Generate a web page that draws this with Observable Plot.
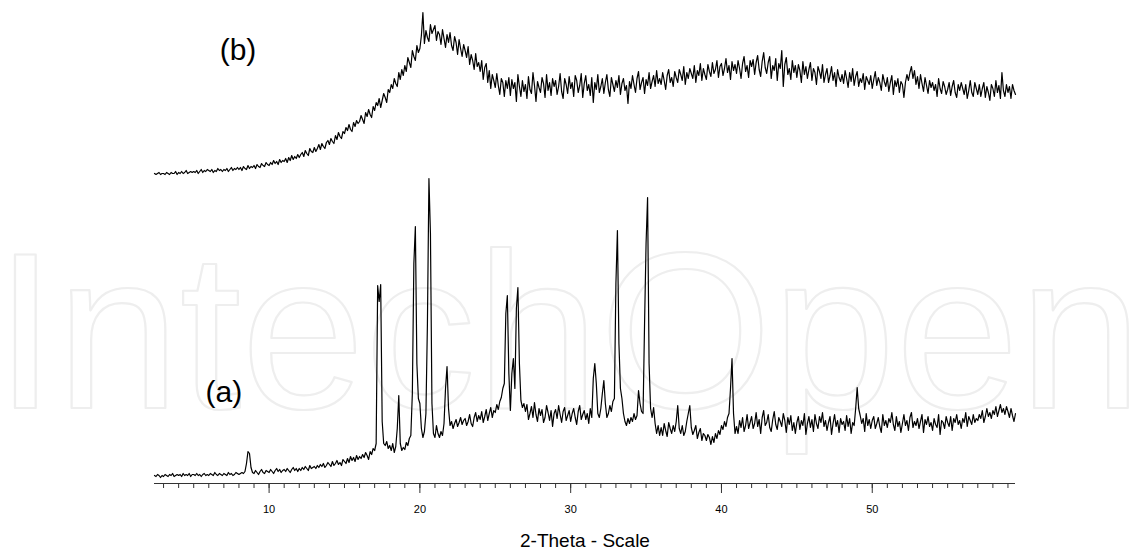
<!DOCTYPE html>
<html><head><meta charset="utf-8">
<script src="https://cdn.jsdelivr.net/npm/d3@7"></script>
<script src="https://cdn.jsdelivr.net/npm/@observablehq/plot@0.6"></script>
<style>body{margin:0;background:#fff;}</style>
</head><body><div id="chart"></div>
<script>
// 2-theta scan: regular sampling
const thetaStart = 2.4;
const thetaStep = 0.1;

// (a) intensities (arbitrary units)
const intensityA = [
  8,7,9,8,6,8,
  7,9,8,7,9,8,10,7,8,9,
  8,9,7,10,8,9,8,10,7,9,
  9,8,10,8,9,7,9,10,8,9,
  8,10,9,8,11,9,8,10,9,8,
  10,9,8,11,9,10,8,9,11,10,
  9,10,11,10,12,20,32,30,16,11,
  10,13,11,9,12,14,11,10,13,12,
  11,14,12,10,13,15,12,14,11,13,
  14,12,15,13,11,14,16,13,15,12,
  15,13,16,14,17,15,13,18,15,16,
  17,15,18,16,19,17,20,16,18,21,
  19,17,22,18,20,23,19,21,18,24,
  22,20,25,21,27,23,26,22,28,24,
  27,25,29,26,31,28,24,32,29,35,
  33,40,198,182,199,62,40,38,42,35,
  38,33,40,31,37,55,88,40,33,36,
  34,41,38,45,48,90,220,257,120,85,
  80,55,46,52,70,160,305,250,80,50,
  46,58,50,46,52,48,60,95,117,75,
  58,62,55,60,64,57,61,66,59,63,
  65,58,62,69,60,57,66,71,62,68,
  64,72,61,67,74,63,70,76,66,73,
  71,79,74,82,86,95,100,170,188,110,
  73,110,125,95,175,196,120,83,76,80,
  72,79,64,70,77,66,81,69,62,75,
  68,74,61,66,78,71,63,73,57,70,
  74,65,78,69,61,72,76,63,68,73,
  62,70,75,66,59,72,78,64,69,73,
  64,70,60,75,66,105,120,100,70,66,
  75,90,103,80,66,70,78,72,82,85,
  200,253,140,95,85,70,62,58,65,60,
  66,62,70,64,68,93,80,72,70,160,
  240,286,120,75,66,76,60,50,58,48,
  56,48,60,53,47,61,55,50,58,52,
  62,78,55,50,58,48,52,62,70,78,
  56,49,53,58,45,51,55,43,50,48,
  43,49,46,39,47,41,50,45,53,49,
  58,54,62,57,66,70,95,125,70,50,
  57,50,63,56,66,52,58,69,55,61,
  67,55,60,71,57,64,50,66,73,58,
  61,69,56,52,64,72,59,54,66,62,
  57,70,63,51,66,59,68,53,61,50,
  61,67,54,63,58,70,49,60,67,56,
  64,52,69,60,55,67,61,71,57,63,
  53,61,67,49,60,69,57,63,51,65,
  59,62,53,68,57,65,50,61,58,75,
  96,75,68,60,65,52,70,58,64,55,
  63,67,55,60,66,57,51,69,58,63,
  56,65,61,71,59,53,67,57,62,51,
  60,69,58,63,53,66,71,56,62,58,
  65,55,62,69,51,64,59,67,57,61,
  53,65,59,56,69,49,63,61,55,67,
  61,57,67,53,65,61,69,59,63,55,
  65,61,71,57,67,63,59,69,61,65,
  63,69,65,73,61,67,75,67,71,65,
  73,69,77,67,73,79,71,75,69,77,
  72,66,75,68,62,70
];

// (b) intensities (arbitrary units, before vertical offset)
const intensityB = [
  8,7,8,9,7,8,
  8,7,9,8,7,9,8,8,10,7,
  9,8,10,8,9,11,8,9,10,9,
  10,9,11,8,10,12,9,11,10,12,
  11,10,12,9,11,10,13,11,12,10,
  12,11,13,10,12,14,11,13,12,14,
  12,14,11,15,13,12,16,13,15,14,
  16,13,17,15,14,18,16,15,19,17,
  16,19,17,21,18,20,17,22,19,21,
  20,23,19,24,21,26,22,25,23,27,
  24,27,29,25,31,28,26,33,30,29,
  34,30,33,37,32,38,35,33,39,41,
  37,43,40,38,46,42,49,45,43,50,
  48,54,51,57,52,50,59,55,61,58,
  60,66,62,58,69,65,72,67,64,75,
  71,79,76,83,74,81,88,84,79,92,
  89,97,93,103,98,95,109,102,112,106,
  116,110,124,119,114,131,125,121,136,129,
  133,146,169,138,151,144,140,157,148,152,
  156,141,150,147,137,152,143,134,147,139,
  149,136,131,145,139,127,142,133,125,137,
  131,124,135,117,127,121,112,128,115,119,
  110,121,102,114,118,99,111,93,107,101,
  94,108,96,87,103,99,85,101,93,104,
  86,102,93,99,80,107,95,85,101,90,
  97,83,105,92,88,109,96,80,100,94,
  89,104,98,84,107,91,99,86,103,95,
  101,87,95,108,90,83,103,97,88,105,
  93,99,85,106,101,89,96,108,84,98,
  106,91,97,86,104,79,99,92,107,89,
  95,103,88,99,107,92,85,104,97,90,
  101,94,106,87,98,103,91,96,78,100,
  93,106,97,89,103,110,92,99,104,88,
  102,96,109,93,100,106,95,111,98,103,
  97,109,101,92,106,112,99,104,95,110,
  104,99,112,107,101,115,97,109,103,113,
  108,103,116,99,111,106,118,101,113,107,
  102,117,110,105,119,108,112,121,104,115,
  118,106,113,123,109,116,102,120,111,117,
  108,121,113,103,118,125,110,116,104,121,
  115,122,107,119,126,112,105,120,129,114,
  108,119,125,103,116,111,123,101,118,113,
  131,95,117,124,107,113,102,121,109,116,
  104,117,111,99,120,107,115,103,112,119,
  101,113,109,97,115,110,103,117,99,107,
  113,99,106,115,101,109,95,112,104,100,
  107,98,111,103,94,109,100,113,96,105,
  110,95,103,99,108,92,105,101,97,106,
  93,102,110,96,104,99,91,107,100,95,
  104,90,99,106,87,101,95,103,89,100,
  97,84,99,107,101,109,115,103,111,97,
  105,93,107,98,90,104,96,88,101,94,
  99,91,97,85,103,93,88,100,95,87,
  92,99,86,95,101,89,84,97,91,99,
  93,87,97,83,91,101,89,85,99,93,
  87,97,85,93,99,84,95,89,81,97,
  93,85,101,89,96,83,109,91,85,97,
  89,95,83,97,91,87
];
const offsetB = 302;

const majorTicks = [10, 20, 30, 40, 50];
const minorTicks = [3,4,5,6,7,8,9,10,11,12,13,14,15,16,17,18,19,20,21,22,23,24,25,26,27,28,29,30,31,32,33,34,35,36,37,38,39,40,41,42,43,44,45,46,47,48,49,50,51,52,53,54,55,56,57,58,59];
const seriesLabels = [
  {label: "(a)", theta: 5.78, intensity: 82},
  {label: "(b)", theta: 6.72, intensity: 424}
];
const axisTitle = ["2-Theta - Scale"];
const watermark = ["IntechOpen"];

const rowsA = intensityA.map((v, i) => ({theta: thetaStart + i * thetaStep, intensity: v}));
const rowsB = intensityB.map((v, i) => ({theta: thetaStart + i * thetaStep, intensity: v}));

const chart = Plot.plot({
  width: 1148,
  height: 549,
  marginLeft: 154,
  marginRight: 133,
  marginTop: 10,
  marginBottom: 66,
  style: {fontFamily: "'Liberation Sans', Arial, sans-serif", background: "white", color: "black", overflow: "visible"},
  x: {domain: [2.4, 59.5]},
  y: {domain: [0, 473], axis: null},
  marks: [
    Plot.text(watermark, {text: d => d, frameAnchor: "bottom-left", textAnchor: "start", lineAnchor: "bottom", dx: -160, dy: -76, fontSize: 222, fill: "none", stroke: "#eeeeee", strokeWidth: 2.2}),
    Plot.ruleY([0], {stroke: "#333", strokeWidth: 1.2}),
    Plot.axisX({ticks: minorTicks, tickSize: 5, tickFormat: () => "", label: null, stroke: "#333"}),
    Plot.axisX({ticks: majorTicks, tickSize: 10, tickPadding: 12, fontSize: 11, label: null, stroke: "#333"}),
    Plot.line(rowsA, {x: "theta", y: "intensity", stroke: "black", strokeWidth: 1.2}),
    Plot.line(rowsB, {x: "theta", y: d => d.intensity + offsetB, stroke: "black", strokeWidth: 1.2}),
    Plot.text(seriesLabels, {x: "theta", y: "intensity", text: "label", fontSize: 30, textAnchor: "start", lineAnchor: "bottom", fill: "black"}),
    Plot.text(axisTitle, {text: d => d, frameAnchor: "bottom", lineAnchor: "bottom", dy: 63, fontSize: 19, fill: "black"})
  ]
});
document.getElementById("chart").appendChild(chart);
</script>
</body></html>
